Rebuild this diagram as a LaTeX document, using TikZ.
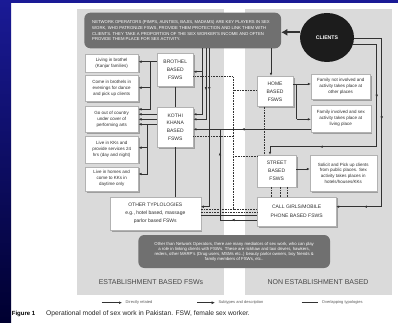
\documentclass[tikz,border=0pt]{standalone}
\usepackage{fontspec}
\setmainfont{Liberation Sans}
\usetikzlibrary{arrows.meta,shadows,decorations.markings,shapes.geometric}
\newcommand\myfs[2]{\fontsize{#1}{#2}\selectfont}
\definecolor{navyA}{RGB}{26,26,150}
\definecolor{navyB}{RGB}{0,0,48}
\definecolor{panel}{RGB}{218,218,218}
\definecolor{darkbox}{RGB}{112,112,112}
\definecolor{lin}{RGB}{50,50,50}
\definecolor{txt}{RGB}{45,45,45}
\definecolor{clientc}{RGB}{28,28,28}
\begin{document}
\begin{tikzpicture}[x=1pt,y=-1pt,
  whitebox/.style={fill=white, draw=black!30, line width=0.3pt,
    drop shadow={shadow xshift=1.6pt, shadow yshift=-1.6pt, fill=black!38, opacity=1},
    inner sep=0pt, align=center, text=txt},
  smalltxt/.style={font=\myfs{4.5}{6}},
  captxt/.style={font=\myfs{5}{8}},
  darkpanel/.style={fill=darkbox, rounded corners=6pt, inner sep=0pt, text=white, align=center},
  conn/.style={draw=lin, color=lin, line width=0.6pt},
  arr/.style={conn, -{Latex[length=3pt,width=2.6pt]}},
  dotline/.style={draw=lin, line width=0.6pt, dash pattern=on 0.8pt off 0.8pt},
  onemark/.style={postaction={decorate,decoration={markings,mark=at position #1 with {\arrow{Latex[length=3pt,width=2.6pt]}}}}},
  twomarks/.style 2 args={postaction={decorate,decoration={markings,
     mark=at position #1 with {\arrow{Latex[length=3pt,width=2.6pt]}},
     mark=at position #2 with {\arrow{Latex[length=3pt,width=2.6pt]}}}}},
  legtxt/.style={anchor=west, inner sep=0pt, font=\myfs{4}{5}, text=black!65}
]
\useasboundingbox (0,0) rectangle (398,323);
\fill[white] (0,0) rectangle (398,323);
\fill[navyA] (0,0) rectangle (398,3.3);
\shade[top color=navyA, bottom color=navyB] (0,0) rectangle (11,323);

% panels
\fill[panel] (77.3,9.3) rectangle (224,294.7);
\fill[panel] (245,9.3) rectangle (391.7,294.7);

% network operators box
\node[darkpanel, minimum width=196.7pt, minimum height=35.6pt] (net) at (182.7,30.5) {};
\node[anchor=north west, inner sep=0pt, align=left, text=white, font=\myfs{4.25}{5.7}] (nettext) at (92,20.6)
 {NETWORK OPERATORS (PIMPS, AUNTIES, BAJIS, MADAMS) ARE KEY PLAYERS IN SEX\\
  WORK, WHO PATRONIZE FSWS, PROVIDE THEM PROTECTION AND LINK THEM WITH\\
  CLIENTS. THEY TAKE A PROPORTION OF THE SEX WORKER'S INCOME AND OFTEN\\
  PROVIDE THEM PLACE FOR SEX ACTIVITY.};

% clients
\node[ellipse, fill=clientc, minimum width=54pt, minimum height=49pt, inner sep=0pt,
      text=white, font=\bfseries\myfs{5.2}{6}] (clients) at (327,37.5) {CLIENTS};
\draw[lin, line width=2pt, -{Latex[length=6pt,width=7pt]}] (clients.west |- 0,32.3) -- (net.east |- 0,32.3);

% left description boxes
\node[whitebox, smalltxt, minimum width=53.3pt, minimum height=17.4pt] (box1) at (111.7,63) {Living in brothel\\(Kanjar families)};
\node[whitebox, smalltxt, minimum width=53.3pt, minimum height=26.7pt] (box2) at (111.7,88.3) {Come in brothels in\\evenings for dance\\and pick up clients};
\node[whitebox, smalltxt, minimum width=53.3pt, minimum height=26.3pt] (box3) at (111.7,119.2) {Go out of country\\under cover of\\performing arts};
\node[whitebox, smalltxt, minimum width=53.3pt, minimum height=26.7pt] (box4) at (111.7,149.3) {Live in KKs and\\provide services 24\\hrs (day and night)};
\node[whitebox, smalltxt, minimum width=53.3pt, minimum height=24.3pt] (box5) at (111.7,178.8) {Live in homes and\\come to KKs in\\daytime only};

% typology boxes
\node[whitebox, captxt, minimum width=36pt, minimum height=33pt] (brothel) at (175.3,70) {BROTHEL\\BASED\\FSWS};
\node[whitebox, font=\myfs{5}{7.8}, minimum width=36pt, minimum height=40pt] (kothi) at (175.3,127) {KOTHI\\KHANA\\BASED\\FSWS};
\node[whitebox, captxt, minimum width=36pt, minimum height=30.7pt] (home) at (275,91.3) {HOME\\BASED\\FSWS};
\node[whitebox, captxt, minimum width=38.7pt, minimum height=31.7pt] (street) at (276.7,170.8) {STREET\\BASED\\FSWS};
\node[whitebox, font=\myfs{5}{8.3}, minimum width=78.7pt, minimum height=29.3pt] (call) at (296.7,211.3) {CALL GIRLS/MOBILE\\PHONE BASED FSWS};
\node[whitebox, font=\myfs{5}{8.2}, minimum width=90.7pt, minimum height=33.3pt] (othertyp) at (155.3,213.3) {OTHER TYPLOLOGIES\\e.g., hotel based, massage\\parlor based FSWs};

% right description boxes
\node[whitebox, smalltxt, minimum width=59.3pt, minimum height=25pt] (famno) at (340.7,86.5) {Family not involved and\\activity takes place at\\other places};
\node[whitebox, smalltxt, minimum width=59.7pt, minimum height=27.3pt] (famyes) at (340.8,118.7) {Family involved and sex\\activity takes place at\\living place};
\node[whitebox, font=\myfs{4.5}{5.7}, minimum width=66.7pt, minimum height=36pt] (solicit) at (343.3,173) {Solicit and Pick up clients\\from public places. Sex\\activity takes places in\\hotels/houses/KKs};

% mediators box
\node[darkpanel, minimum width=191.7pt, minimum height=33pt, font=\myfs{4.3}{5}] (mediators) at (234.2,251.5)
 {Other than Network Operators, there are many mediators of sex work, who can play\\
  a role in linking clients with FSWs. These are rickhaw and taxi drivers, hawkers,\\
  reders, other MARP's (Drug users, MSMs etc..) beauty parlor owners, boy friends \&\\
  family members of FSWs, etc..};

% panel labels
\node[font=\myfs{7}{8}, text=black!72, inner sep=0pt] (estlabel) at (151,282) {ESTABLISHMENT BASED FSWs};
\node[font=\myfs{7}{8}, text=black!72, inner sep=0pt] (nonlabel) at (318,282) {NON ESTABLISHMENT BASED};

% ---- connectors: left side
\draw[arr] (brothel.west |- 0,61.7) -- (box1.east |- 0,61.7);
\draw[conn] (150.7,61.7) -- (150.7,109.3);
\draw[arr] (150.7,87.7) -- (box2.east |- 0,87.7);
\draw[arr] (150.7,109.3) -- (box3.east |- 0,109.3);
\draw[arr] (kothi.west |- 0,114.3) -- (box3.east |- 0,114.3);
\draw[arr] (kothi.west |- 0,119.3) -- (box3.east |- 0,119.3);
\draw[arr] (kothi.west |- 0,124.3) -- (box3.east |- 0,124.3);
\draw[conn] (147.5,124.3) -- (147.5,174);
\draw[arr] (147.5,147.7) -- (box4.east |- 0,147.7);
\draw[arr] (147.5,174) -- (box5.east |- 0,174);
\draw[conn] (brothel.south) -- (kothi.north);
\draw[conn] (kothi.south) -- (kothi.south |- othertyp.north);

% ---- network operator lines
\draw[arr] (net.south -| 202.7,0) -- (202.7,114.3) -- (kothi.east |- 0,114.3);
\draw[arr] (202.7,71.7) -- (brothel.east |- 0,71.7);
\draw[arr, onemark=0.5] (net.south -| 206,0) -- (206,119.3) -- (kothi.east |- 0,119.3);
\draw[arr, onemark=0.25] (net.south -| 209.3,0) -- (209.3,206.7) -- (othertyp.east |- 0,206.7);
\draw[arr] (net.south -| 271,0) -- (home.north -| 271,0);

% ---- family involved / call girls back to kothi
\draw[arr, onemark=0.59] (famyes.west |- 0,129.3) -- (kothi.east |- 0,129.3);
\draw[conn, twomarks={0.2}{0.82}] (call.west |- 0,220) -- (220,220) -- (220,129.3);
\draw[conn] (othertyp.east |- 0,215.7) -- (call.west |- 0,215.7);

% ---- home / street descriptions
\draw[arr] (home.east |- 0,84) -- (famno.west |- 0,84);
\draw[conn] (296.7,84) -- (296.7,119.3);
\draw[arr] (296.7,119.3) -- (famyes.west |- 0,119.3);
\draw[arr] (street.east |- 0,169) -- (solicit.west |- 0,169);

% ---- clients lines
\draw[arr, twomarks={0.45}{0.885}] (clients.-2) -| (381.7,206.7) -- (call.east |- 0,206.7);
\draw[arr, twomarks={0.32}{0.76}] (clients.-14) -| (376.7,146.7) -- (270,146.7) -- (street.north -| 270,0);

% ---- overlapping (dotted) lines
\draw[dotline] (brothel.east |- 0,76.7) -- (233,76.7) -- (233,209.3) -- (call.west |- 0,209.3);
\draw[dotline] (home.west |- 0,90) -- (233,90);
\draw[dotline] (kothi.east |- 0,136.7) -- (233,136.7);
\draw[dotline] (233,156.7) -- (street.west |- 0,156.7);
\draw[dotline] (othertyp.east |- 0,209.3) -- (233,209.3);
\draw[dotline] (othertyp.east |- 0,212.3) -- (call.west |- 0,212.3);
\draw[dotline] (home.south -| 264,0) -- (street.north -| 264,0);
\draw[dotline] (street.south -| 271.7,0) -- (call.north -| 271.7,0);
\draw[dotline] (street.south -| 280,0) -- (call.north -| 280,0);
\draw[dotline] (street.south -| 287.3,0) -- (call.north -| 287.3,0);

% ---- legend
\coordinate (lgAa) at (101.7,302.7); \coordinate (lgAb) at (122,302.7);
\coordinate (lgBa) at (197,302.7);   \coordinate (lgBb) at (215,302.7);
\coordinate (lgCa) at (301.7,302.7); \coordinate (lgCb) at (318.3,302.7);
\draw[lin, line width=0.5pt, -{Latex[length=3pt,width=2.6pt]}] (lgAa) -- (lgAb);
\draw[lin, line width=0.9pt, -{Latex[length=3.4pt,width=3pt]}] (lgBa) -- (lgBb);
\draw[lin, line width=0.5pt] (lgCa) -- (lgCb);
\node[legtxt] (legA) at (125.5,302.7) {Directly related};
\node[legtxt] (legB) at (218.3,302.7) {Subtypes and description};
\node[legtxt] (legC) at (321.7,302.7) {Overlapping typologies};

% ---- caption
\node[anchor=west, inner sep=0pt, font=\bfseries\myfs{6}{8}] (figlabel) at (11.7,313.5) {Figure 1};
\node[anchor=west, inner sep=0pt, font=\myfs{6.7}{8}, text=black!85] (figcap) at (46,313.5) {Operational model of sex work in Pakistan. FSW, female sex worker.};
\end{tikzpicture}
\end{document}
